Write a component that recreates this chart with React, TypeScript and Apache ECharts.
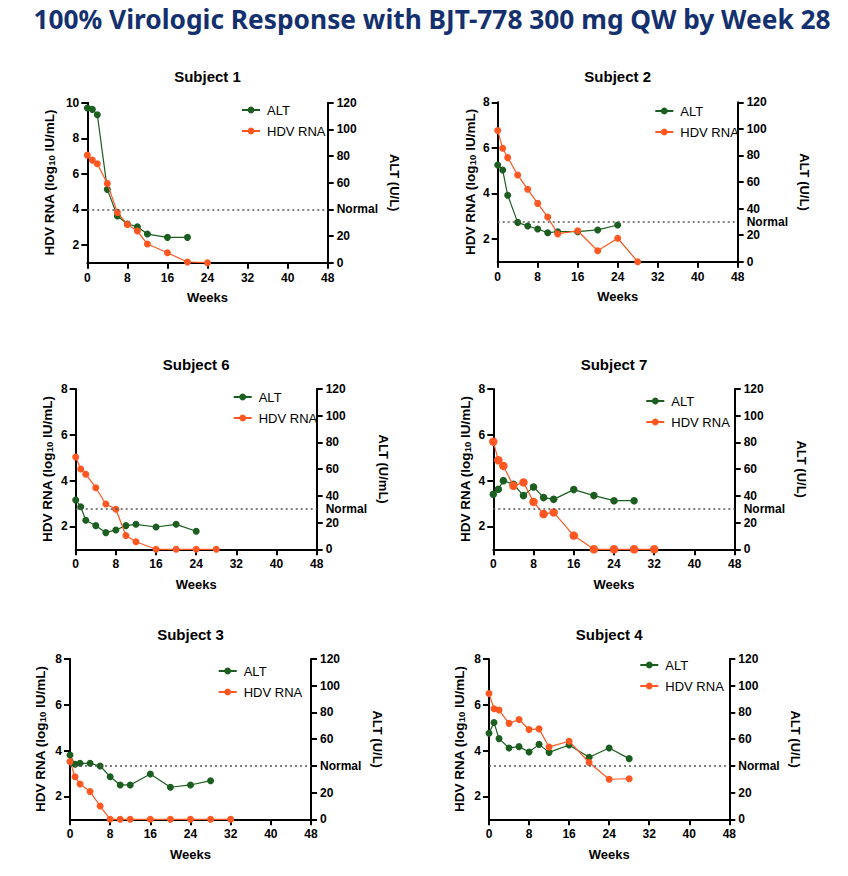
import React, { useEffect, useRef } from "react";
import * as echarts from "echarts";

const mainTitle = "100% Virologic Response with BJT-778 300 mg QW by Week 28";
const subjectNames = ["Subject 1", "Subject 2", "Subject 6", "Subject 7", "Subject 3", "Subject 4"];
const weekTicks = [0, 8, 16, 24, 32, 40, 48];

const s1AltWeeks = [0, 1, 2, 4, 6, 8, 10, 12, 16, 20];
const s1Alt = [116, 115, 111, 55, 35, 29, 27, 21.5, 19, 19];
const s1HdvWeeks = [0, 1, 2, 4, 6, 8, 10, 12, 16, 20, 24];
const s1Hdv = [7.05, 6.77, 6.57, 5.46, 3.83, 3.15, 2.78, 2.05, 1.56, 1.04, 1];

const s2AltWeeks = [0, 1, 2, 4, 6, 8, 10, 12, 16, 20, 24];
const s2Alt = [72.8, 69, 50, 29.6, 26.9, 24.6, 21.8, 22.6, 22.6, 23.9, 27.6];
const s2HdvWeeks = [0, 1, 2, 4, 6, 8, 10, 12, 16, 20, 24, 28];
const s2Hdv = [6.76, 5.98, 5.57, 4.81, 4.18, 3.56, 2.96, 2.22, 2.36, 1.48, 2.03, 1];

const s6AltWeeks = [0, 1, 2, 4, 6, 8, 10, 12, 16, 20, 24];
const s6Alt = [36.9, 31.9, 21.7, 17.7, 12.5, 14.5, 17.7, 18.7, 16.7, 18.7, 13.5];
const s6HdvWeeks = [0, 1, 2, 4, 6, 8, 10, 12, 16, 20, 24, 28];
const s6Hdv = [5.03, 4.51, 4.28, 3.69, 2.98, 2.75, 1.6, 1.33, 1, 1, 1, 1];

const s7AltWeeks = [0, 1, 2, 4, 6, 8, 10, 12, 16, 20, 24, 28];
const s7Alt = [41.2, 44.9, 51.4, 48.7, 40.2, 46.7, 38.7, 37.4, 44.7, 40.2, 36.4, 36.4];
const s7HdvWeeks = [0, 1, 2, 4, 6, 8, 10, 12, 16, 20, 24, 28, 32];
const s7Hdv = [5.7, 4.89, 4.64, 3.77, 3.92, 3.07, 2.54, 2.61, 1.6, 1, 1, 1, 1];

const s3AltWeeks = [0, 1, 2, 4, 6, 8, 10, 12, 16, 20, 24, 28];
const s3Alt = [48.2, 41.2, 41.9, 41.9, 39.9, 31.9, 25.7, 25.7, 33.9, 24, 25.7, 28.9];
const s3HdvWeeks = [0, 1, 2, 4, 6, 8, 10, 12, 16, 20, 24, 28, 32];
const s3Hdv = [3.52, 2.86, 2.54, 2.21, 1.58, 1, 1, 1, 1, 1, 1, 1, 1];

const s4AltWeeks = [0, 1, 2, 4, 6, 8, 10, 12, 16, 20, 24, 28];
const s4Alt = [64.4, 72.4, 60.4, 53.4, 54.4, 50.4, 56.1, 50.1, 55.6, 46.4, 53.4, 45.4];
const s4HdvWeeks = [0, 1, 2, 4, 6, 8, 10, 12, 16, 20, 24, 28];
const s4Hdv = [6.49, 5.83, 5.77, 5.19, 5.36, 4.92, 4.95, 4.16, 4.41, 3.48, 2.75, 2.77];

const hdvAxisMax = [10, 8, 8, 8, 8, 8];
const hdvTicks10 = [2, 4, 6, 8, 10];
const hdvTicks8 = [2, 4, 6, 8];
const altTicks = [0, 20, 40, 60, 80, 100, 120];
const altNormal = [40, 30, 30, 30, 40, 40];
const altAxisTitles = ["ALT (U/L)", "ALT (U/L)", "ALT (U/mL)", "ALT (U/L)", "ALT (U/L)", "ALT (U/L)"];
const legendNames = ["ALT", "HDV RNA"];

const altWeeksAll = [s1AltWeeks, s2AltWeeks, s6AltWeeks, s7AltWeeks, s3AltWeeks, s4AltWeeks];
const altAll = [s1Alt, s2Alt, s6Alt, s7Alt, s3Alt, s4Alt];
const hdvWeeksAll = [s1HdvWeeks, s2HdvWeeks, s6HdvWeeks, s7HdvWeeks, s3HdvWeeks, s4HdvWeeks];
const hdvAll = [s1Hdv, s2Hdv, s6Hdv, s7Hdv, s3Hdv, s4Hdv];

const GREEN = "#1b5e20";
const ORANGE = "#ff5722";
const FONT = "Arial, 'Liberation Sans', sans-serif";

// layout: [left, top, width, height]
const grids = [
  [87.3, 102.7, 240.4, 160],
  [497.7, 102.3, 240, 159.4],
  [75.7, 389, 241, 160.3],
  [493.3, 389, 241.4, 160.3],
  [70, 659, 241, 160.3],
  [489, 659, 240.3, 160.3],
];
const titleY = [76.7, 76.7, 364, 364, 634, 634];
const legendPos = [
  [236, 98],
  [649.3, 99],
  [227.7, 385],
  [640.3, 389],
  [212.7, 659],
  [634.3, 653],
];
const leftNameGap = [31, 20.5, 21, 21, 22.5, 22.5];
const symSizes = [7, 7, 7, 8.5, 7, 7];

function buildOption() {
  const grid: any[] = [];
  const xAxis: any[] = [];
  const yAxis: any[] = [];
  const series: any[] = [];
  const legend: any[] = [];
  const graphic: any[] = [
    {
      type: "text",
      x: 432,
      y: 18.5,
      style: {
        text: mainTitle,
        fill: "#14306e",
        font: "bold 26.3px 'Noto Sans', 'Open Sans', sans-serif",
        align: "center",
        verticalAlign: "middle",
        textAlign: "center",
        textVerticalAlign: "middle",
      },
    },
  ];
  const axisLine = { show: true, onZero: false, lineStyle: { color: "#000", width: 2 } };
  const axisTick = { show: true, inside: false, length: 6, lineStyle: { color: "#000", width: 2 } };
  const labelStyle = { color: "#000", fontWeight: "bold", fontSize: 12, fontFamily: FONT };

  for (let i = 0; i < 6; i++) {
    const [l, t, w, h] = grids[i];
    const normal = altNormal[i];
    grid.push({ left: l, top: t, width: w, height: h, containLabel: false });
    graphic.push({
      type: "text",
      x: l + w / 2,
      y: titleY[i],
      style: {
        text: subjectNames[i],
        fill: "#000",
        font: `bold 15px ${FONT}`,
        align: "center",
        verticalAlign: "middle",
        textAlign: "center",
        textVerticalAlign: "middle",
      },
    });
    xAxis.push({
      type: "value",
      gridIndex: i,
      min: weekTicks[0],
      max: weekTicks[weekTicks.length - 1],
      interval: 8,
      axisLine,
      axisTick,
      splitLine: { show: false },
      axisLabel: { ...labelStyle, margin: 9 },
      name: "Weeks",
      nameLocation: "middle",
      nameGap: 28.5,
      nameTextStyle: { color: "#000", fontWeight: "bold", fontSize: 13, fontFamily: FONT },
    });
    const ticks = hdvAxisMax[i] === 10 ? hdvTicks10 : hdvTicks8;
    yAxis.push({
      type: "value",
      gridIndex: i,
      position: "left",
      min: 1,
      max: hdvAxisMax[i],
      axisLine,
      axisTick: { ...axisTick, customValues: ticks },
      splitLine: { show: false },
      axisLabel: { ...labelStyle, margin: 8, customValues: ticks },
      name: "{a|HDV RNA (log}{s|10}{a| IU/mL)}",
      nameLocation: "middle",
      nameGap: leftNameGap[i],
      nameTextStyle: {
        color: "#000",
        fontWeight: "bold",
        fontSize: 13.5,
        fontFamily: FONT,
        rich: {
          a: { fontWeight: "bold", fontSize: 13.5, fontFamily: FONT, color: "#000", lineHeight: 16, verticalAlign: "bottom" },
          s: { fontWeight: "bold", fontSize: 9.5, fontFamily: FONT, color: "#000", lineHeight: 9, verticalAlign: "bottom" },
        },
      },
    });
    yAxis.push({
      type: "value",
      gridIndex: i,
      position: "right",
      min: altTicks[0],
      max: altTicks[altTicks.length - 1],
      interval: 20,
      axisLine,
      axisTick,
      splitLine: { show: false },
      axisLabel: {
        ...labelStyle,
        margin: 9,
        formatter: (v: number) => (v === normal ? "" : String(v)),
      },
      name: altAxisTitles[i],
      nameLocation: "middle",
      nameRotate: -90,
      nameGap: 60,
      nameTextStyle: { color: "#000", fontWeight: "bold", fontSize: 13, fontFamily: FONT },
    });
    series.push({
      name: legendNames[0],
      type: "line",
      xAxisIndex: i,
      yAxisIndex: 2 * i + 1,
      data: altWeeksAll[i].map((wk, j) => [wk, altAll[i][j]]),
      symbol: "circle",
      symbolSize: i === 3 ? 7.5 : 7,
      lineStyle: { color: GREEN, width: 1.2 },
      itemStyle: { color: GREEN },
      z: 3,
      markLine: {
        silent: true,
        symbol: "none",
        lineStyle: { type: [2, 3], color: "#555", width: 1.5 },
        label: {
          show: true,
          position: "end",
          formatter: "Normal",
          distance: 9,
          color: "#000",
          fontWeight: "bold",
          fontSize: 12,
          fontFamily: FONT,
        },
        data: [{ yAxis: normal }],
      },
    });
    series.push({
      name: legendNames[1],
      type: "line",
      xAxisIndex: i,
      yAxisIndex: 2 * i,
      data: hdvWeeksAll[i].map((wk, j) => [wk, hdvAll[i][j]]),
      symbol: "circle",
      symbolSize: symSizes[i],
      lineStyle: { color: ORANGE, width: 1.2 },
      itemStyle: { color: ORANGE },
      z: 4,
    });
    legend.push({
      orient: "vertical",
      left: legendPos[i][0],
      top: legendPos[i][1],
      data: legendNames,
      itemWidth: 18,
      itemHeight: 8.5,
      itemGap: 7,
      selectedMode: false,
      textStyle: { color: "#000", fontSize: 13, fontFamily: FONT, lineHeight: 14, padding: [0, 0, 0, 2] },
    });
  }
  return { animation: false, backgroundColor: "#fff", grid, xAxis, yAxis, series, legend, graphic };
}

export default function App() {
  const ref = useRef<HTMLDivElement>(null);
  useEffect(() => {
    if (!ref.current) return;
    const chart = echarts.init(ref.current, undefined, { renderer: "svg" });
    chart.setOption(buildOption() as any);
    return () => chart.dispose();
  }, []);
  return <div ref={ref} style={{ position: "absolute", left: 0, top: 0, width: 848, height: 876 }} />;
}
